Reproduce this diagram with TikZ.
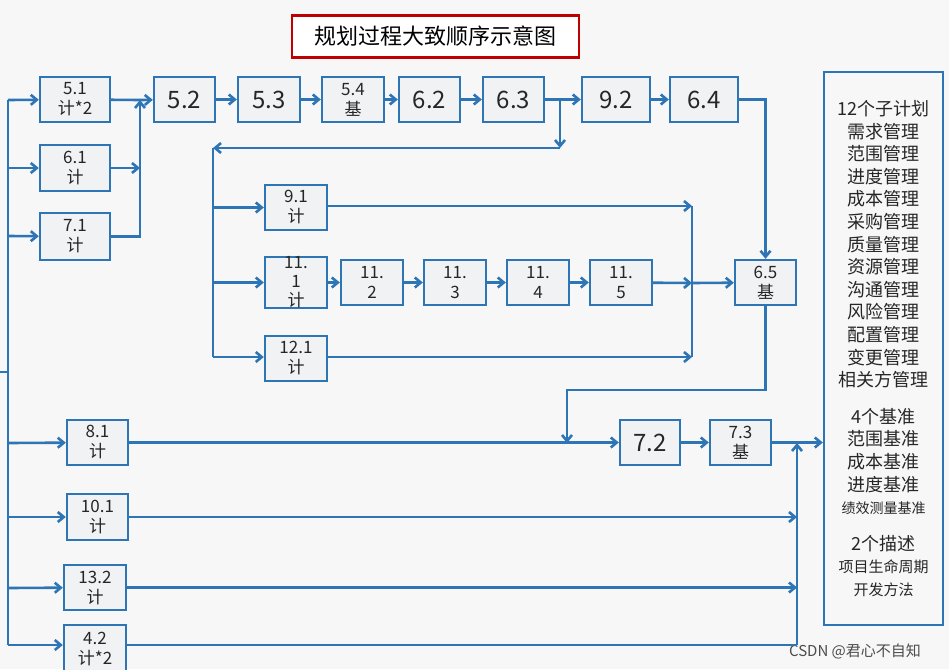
\documentclass[tikz,border=0pt]{standalone}
\usepackage{fontspec}
\setmainfont{Noto Sans CJK SC}
\usetikzlibrary{arrows.meta}
\definecolor{ln}{HTML}{2E75B6}
\definecolor{bx}{HTML}{F1F2F3}
\tikzset{
 box/.style={draw=ln,line width=2.4pt,fill=bx,inner sep=0pt,align=center,font=\fontsize{17}{20}\selectfont,text=black!85},
 big/.style={font=\fontsize{24}{24}\selectfont},
 ar/.style={draw=ln,line width=2.6pt,-{Straight Barb[length=6pt,width=10pt]}},
 pl/.style={draw=ln,line width=2.6pt},
}
\newcommand{\bx}[6]{\node[box,minimum width=#4-#2,minimum height=#5-#3,#6] (#1) at ({(#2+#4)/2},{(#3+#5)/2})}
\begin{document}
\begin{tikzpicture}[x=1pt,y=-1pt]
\useasboundingbox[fill=white!94!gray] (0,0) rectangle (949,669);
\node[draw=red!75!black,line width=2.4pt,fill=white,minimum width=287,minimum height=42,font=\fontsize{22}{22}\selectfont] (title) at (435.5,36.5) {规划过程大致顺序示意图};
% boxes
\bx{a51}{40}{77}{110}{122}{}{5.1\\计*2};
\bx{a61}{40}{145}{110}{191}{}{6.1\\计};
\bx{a71}{40}{213}{110}{260}{}{7.1\\计};
\bx{a52}{154}{77}{215}{122}{big}{5.2};
\bx{a53}{238}{77}{300}{122}{big}{5.3};
\bx{a54}{322}{77}{384}{122}{}{5.4\\基};
\bx{a62}{399}{77}{460}{122}{big}{6.2};
\bx{a63}{483}{77}{544}{122}{big}{6.3};
\bx{a92}{582}{77}{650}{122}{big}{9.2};
\bx{a64}{670}{77}{738}{122}{big}{6.4};
\bx{a91}{265}{185}{327}{230}{}{9.1\\计};
\bx{b1}{265}{260}{327}{305}{font=\fontsize{17}{19}\selectfont}{11.\\1\\计};
\bx{b2}{341}{260}{403}{305}{}{11.\\2};
\bx{b3}{424}{260}{486}{305}{}{11.\\3};
\bx{b4}{507}{260}{569}{305}{}{11.\\4};
\bx{b5}{590}{260}{652}{305}{}{11.\\5};
\bx{a121}{265}{336}{327}{381}{}{12.1\\计};
\bx{a65}{735}{260}{796}{305}{}{6.5\\基};
\bx{a81}{67}{420}{128}{465}{}{8.1\\计};
\bx{a72}{620}{420}{680}{465}{big}{7.2};
\bx{a73}{710}{420}{771}{465}{}{7.3\\基};
\bx{a101}{67}{494}{128}{540}{}{10.1\\计};
\bx{a132}{64}{565}{126}{610}{}{13.2\\计};
\bx{a42}{64}{625}{126}{672}{}{4.2\\计*2};
\node[box,minimum width=119,minimum height=553,fill=bx!60!white,font=\fontsize{18}{22.6}\selectfont] (out) at (883.5,348.5) {12个子计划\\需求管理\\范围管理\\进度管理\\成本管理\\采购管理\\质量管理\\资源管理\\沟通管理\\风险管理\\配置管理\\变更管理\\相关方管理\\[14pt]4个基准\\范围基准\\成本基准\\进度基准\\{\fontsize{14}{20}\selectfont 绩效测量基准}\\[14pt]2个描述\\{\fontsize{15}{20}\selectfont 项目生命周期}\\{\fontsize{15}{20}\selectfont 开发方法}};
\node[font=\fontsize{15}{15}\selectfont,text=black!70] (wm) at (855,651) {CSDN @君心不自知};
% coordinates
\coordinate (Lt) at (8,100);
\coordinate (Lb) at (8,645);
\coordinate (M) at (140,100);
\coordinate (D) at (560,100);
\coordinate (Dl) at (560,148);
\coordinate (B) at (213,148);
\coordinate (Bb) at (213,357);
\coordinate (V) at (692,206);
\coordinate (Vb) at (692,357);
\coordinate (Vm) at (692,283);
\coordinate (R) at (797,443);
\coordinate (Rb) at (797,645);
% left bus
\draw[pl] (Lt) -- (Lb);
\draw[pl] (Lb |- 0,372) -- (0,372);
\draw[ar] (Lt) -- (a51);
\draw[ar] (8,168) -- (a61);
\draw[ar] (8,236) -- (a71);
\draw[ar] (8,443) -- (a81);
\draw[ar] (8,517) -- (a101);
\draw[ar] (8,588) -- (a132);
\draw[ar] (Lb) -- (a42.west |- Lb);
% merge into 5.2
\draw[pl] (a51) -- (M);
\draw[ar] (a61) -- (M |- a61);
\draw[ar] (a71.east) -| (M);
\draw[ar] (M) -- (a52);
\draw[ar] (a52) -- (a53);
\draw[ar] (a53) -- (a54);
\draw[ar] (a54) -- (a62);
\draw[ar] (a62) -- (a63);
\draw[ar] (a63) -- (a92);
\draw[ar] (a92) -- (a64);
\draw[ar] (D) -- (Dl);
\draw[ar] (Dl) -- (B);
\draw[pl] (B) -- (Bb);
\draw[ar] (B |- a91) -- (a91);
\draw[ar] (B |- b1) -- (b1);
\draw[ar] (Bb) -- (a121.west |- Bb);
\draw[ar] (b1) -- (b2);
\draw[ar] (b2) -- (b3);
\draw[ar] (b3) -- (b4);
\draw[ar] (b4) -- (b5);
\draw[ar] (a91.east |- V) -- (V);
\draw[ar] (a121.east |- Vb) -- (Vb);
\draw[pl] (V) -- (Vb);
\draw[ar] (b5) -- (Vm);
\draw[ar] (Vm) -- (a65);
\draw[ar] (a64.east) -| (a65.north);
\draw[ar] (a65.south) |- (567,390) -- (567,443);
\draw[ar] (a81) -- (a72);
\draw[ar] (a72) -- (a73);
\draw[ar] (a73) -- (out.west |- a73);
\draw[ar] (a101) -- (R |- a101);
\draw[ar] (a132) -- (R |- a132);
\draw[pl] (a42.east |- Rb) -- (Rb);
\draw[ar] (Rb) -- (R);
\end{tikzpicture}
\end{document}
